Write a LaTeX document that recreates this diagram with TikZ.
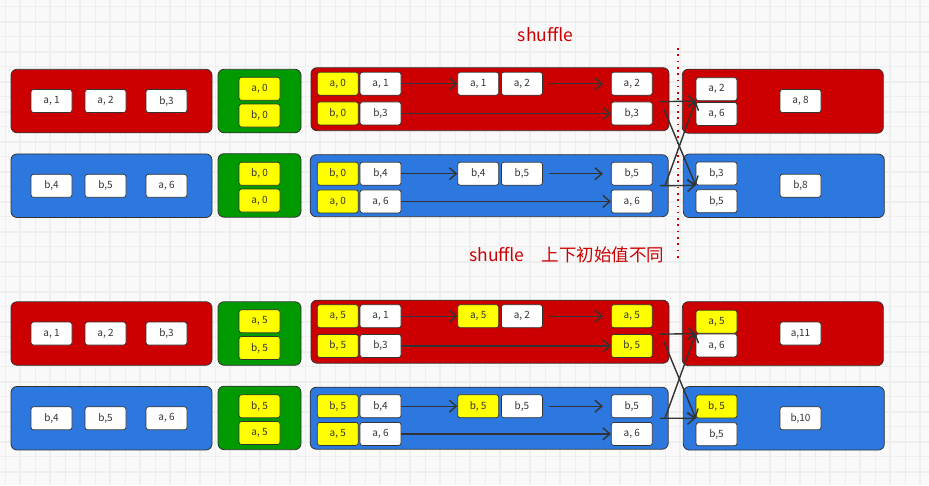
\documentclass[tikz,border=0pt]{standalone}
\usepackage{fontspec}
\setmainfont{Noto Sans CJK SC}
\usetikzlibrary{positioning,arrows.meta}

\definecolor{redc}{HTML}{CC0000}
\definecolor{bluec}{HTML}{2C78DE}
\definecolor{greenc}{HTML}{009900}
\definecolor{yelc}{HTML}{FFFF00}
\definecolor{linec}{HTML}{333333}
\definecolor{bgc}{HTML}{F9F9F9}
\definecolor{gridc}{HTML}{EEEEEE}

\newcommand{\cellfont}{\fontsize{10}{12}\selectfont}

\begin{document}
\begin{tikzpicture}[x=1pt, y=-1pt, node distance=1pt,
    blk/.style={draw=linec, line width=0.8pt, rounded corners=6pt, inner sep=0pt},
    sideblk/.style={blk, minimum width=201pt, minimum height=63.5pt},
    greenblk/.style={blk, fill=greenc, minimum width=83pt, minimum height=63.5pt},
    midblk/.style={blk, minimum width=358pt, minimum height=63pt},
    cell/.style={draw=linec, line width=0.7pt, fill=white, rounded corners=2.5pt,
      minimum width=41pt, minimum height=23pt, inner sep=0pt, text=linec, font=\cellfont},
    ycell/.style={cell, fill=yelc},
    arr/.style={draw=linec, line width=1.4pt, -{Straight Barb[length=7pt,width=12pt]}},
    title/.style={text=redc, font=\fontsize{17.5}{20}\selectfont, inner sep=0pt}]

  \useasboundingbox[fill=bgc] (0,0) rectangle (929,485);
  % background grid
  \foreach \x in {5,35,...,929} \draw[gridc, line width=0.8pt] (\x,0) -- (\x,485);
  \foreach \y in {6.7,36.7,...,485} \draw[gridc, line width=0.8pt] (0,\y) -- (929,\y);
  \foreach \x in {20,50,...,929} \draw[gridc, line width=1.6pt] (\x,0) -- (\x,485);
  \foreach \y in {21.7,51.7,...,485} \draw[gridc, line width=1.6pt] (0,\y) -- (929,\y);

  % upper half
  \node[sideblk, fill=redc] (lru) at (111.5,101) {};
  \node[cell] (lru1) at (51.5,101) {a, 1};
  \node[cell] (lru2) at (105.5,101) {a, 2};
  \node[cell] (lru3) at (166.5,101) {b,3};
  \node[sideblk, fill=bluec] (lbu) at (111.5,185.7) {};
  \node[cell] (lbu1) at (51.5,185.8) {b,4};
  \node[cell] (lbu2) at (105.5,185.8) {b,5};
  \node[cell] (lbu3) at (166.5,185.8) {a, 6};

  \node[greenblk] (gru) at (259.5,101) {};
  \node[ycell] (gru1) at (259.5,88.8) {a, 0};
  \node[ycell, below=3pt of gru1] (gru2) {b, 0};
  \node[greenblk] (gbu) at (259.5,185.4) {};
  \node[ycell] (gbu1) at (259.5,173.8) {b, 0};
  \node[ycell, below=3pt of gbu1] (gbu2) {a, 0};

  \node[midblk, fill=redc] (mru) at (490,99.2) {};
  \node[ycell] (mru1) at (337.8,83.7) {a, 0};
  \node[cell, right=of mru1] (mru2) {a, 1};
  \node[cell] (mru3) at (478.2,83.7) {a, 1};
  \node[cell, right=2pt of mru3] (mru4) {a, 2};
  \node[cell] (mru5) at (631.8,83.7) {a, 2};
  \node[ycell, below=6pt of mru1] (mru6) {b, 0};
  \node[cell, right=of mru6] (mru7) {b,3};
  \node[cell, below=6pt of mru5] (mru8) {b,3};
  \node[midblk, fill=bluec, minimum height=62pt] (mbu) at (489.2,185.7) {};
  \node[ycell] (mbu1) at (337.8,173.7) {b, 0};
  \node[cell, right=of mbu1] (mbu2) {b,4};
  \node[cell] (mbu3) at (478.2,173.7) {b,4};
  \node[cell, right=2pt of mbu3] (mbu4) {b,5};
  \node[cell] (mbu5) at (631.8,173.7) {b,5};
  \node[ycell, below=4pt of mbu1] (mbu6) {a, 0};
  \node[cell, right=of mbu6] (mbu7) {a, 6};
  \node[cell, below=4pt of mbu5] (mbu8) {a, 6};

  \draw[arr] (mru2) -- (mru3);
  \draw[arr, shorten <=6pt, shorten >=8pt] (mru4) -- (mru5);
  \draw[arr] (mru7) -- (mru8);
  \draw[arr] (mbu2) -- (mbu3);
  \draw[arr, shorten <=6pt, shorten >=8pt] (mbu4) -- (mbu5);
  \draw[arr] (mbu7) -- (mbu8);

  \node[sideblk, fill=redc, minimum height=64pt] (rru) at (782.8,101.2) {};
  \node[cell] (rru1) at (716.5,89.2) {a, 2};
  \node[cell, below=of rru1] (rru2) {a, 6};
  \node[cell] (rru3) at (800.5,101) {a, 8};
  \node[sideblk, fill=bluec] (rbu) at (783.8,185.8) {};
  \node[cell] (rbu1) at (716.5,173.5) {b,3};
  \node[cell, below=4pt of rbu1] (rbu2) {b,5};
  \node[cell] (rbu3) at (800.5,185.7) {b,8};

  % lower half
  \node[sideblk, fill=redc] (lrd) at (111.5,333.5) {};
  \node[cell] (lrd1) at (51.5,333.5) {a, 1};
  \node[cell] (lrd2) at (105.5,333.5) {a, 2};
  \node[cell] (lrd3) at (166.5,333.5) {b,3};
  \node[sideblk, fill=bluec] (lbd) at (111.5,418.2) {};
  \node[cell] (lbd1) at (51.5,418.3) {b,4};
  \node[cell] (lbd2) at (105.5,418.3) {b,5};
  \node[cell] (lbd3) at (166.5,418.3) {a, 6};

  \node[greenblk] (grd) at (259.5,333.5) {};
  \node[ycell] (grd1) at (259.5,321.3) {a, 5};
  \node[ycell, below=3pt of grd1] (grd2) {b, 5};
  \node[greenblk] (gbd) at (259.5,417.9) {};
  \node[ycell] (gbd1) at (259.5,406.3) {b, 5};
  \node[ycell, below=3pt of gbd1] (gbd2) {a, 5};

  \node[midblk, fill=redc] (mrd) at (490,331.7) {};
  \node[ycell] (mrd1) at (337.8,316.2) {a, 5};
  \node[cell, right=of mrd1] (mrd2) {a, 1};
  \node[ycell] (mrd3) at (478.2,316.2) {a, 5};
  \node[cell, right=2pt of mrd3] (mrd4) {a, 2};
  \node[ycell] (mrd5) at (631.8,316.2) {a, 5};
  \node[ycell, below=6pt of mrd1] (mrd6) {b, 5};
  \node[cell, right=of mrd6] (mrd7) {b,3};
  \node[ycell, below=6pt of mrd5] (mrd8) {b, 5};
  \node[midblk, fill=bluec, minimum height=62pt] (mbd) at (489.2,418.2) {};
  \node[ycell] (mbd1) at (337.8,406.2) {b, 5};
  \node[cell, right=of mbd1] (mbd2) {b,4};
  \node[ycell] (mbd3) at (478.2,406.2) {b, 5};
  \node[cell, right=2pt of mbd3] (mbd4) {b,5};
  \node[cell] (mbd5) at (631.8,406.2) {b,5};
  \node[ycell, below=4pt of mbd1] (mbd6) {a, 5};
  \node[cell, right=of mbd6] (mbd7) {a, 6};
  \node[cell, below=4pt of mbd5] (mbd8) {a, 6};

  \draw[arr] (mrd2) -- (mrd3);
  \draw[arr, shorten <=6pt, shorten >=8pt] (mrd4) -- (mrd5);
  \draw[arr] (mrd7) -- (mrd8);
  \draw[arr] (mbd2) -- (mbd3);
  \draw[arr, shorten <=6pt, shorten >=8pt] (mbd4) -- (mbd5);
  \draw[arr] (mbd7) -- (mbd8);

  \node[sideblk, fill=redc, minimum height=64pt] (rrd) at (782.8,333.7) {};
  \node[ycell] (rrd1) at (716.5,321.7) {a, 5};
  \node[cell, below=0pt of rrd1] (rrd2) {a, 6};
  \node[cell] (rrd3) at (800.5,333.5) {a,11};
  \node[sideblk, fill=bluec] (rbd) at (783.8,418.3) {};
  \node[ycell] (rbd1) at (716.5,406.5) {b, 5};
  \node[cell, below=4pt of rbd1] (rbd2) {b,5};
  \node[cell] (rbd3) at (800.5,418.3) {b,10};

  % shuffle
  \draw[redc, line width=1.6pt, dash pattern=on 1.6pt off 4.7pt] (677.7,48) -- (677.7,258);
  \node[title] (ttl) at (545.5,35) {shuffle};
  \node[title, anchor=west] (ttl2) at (469,255) {shuffle\hspace{17pt}上下初始值不同};

  \coordinate (su1) at (660,101.7);
  \coordinate (su2) at (664,109.3);
  \coordinate (su3) at (665,185.7);
  \coordinate (su4) at (660,185.7);
  \draw[arr] (su1) -- (rru1.south west);
  \draw[arr] (su2) -- (rbu1.south west);
  \draw[arr] (su3) -- (rru1.south west);
  \draw[arr] (su4) -- (rbu1.south west);

  \coordinate (sd1) at (660,334.2);
  \coordinate (sd2) at (664,341.8);
  \coordinate (sd3) at (665,418.2);
  \coordinate (sd4) at (660,418.2);
  \draw[arr] (sd1) -- (rrd1.south west);
  \draw[arr] (sd2) -- (rbd1.south west);
  \draw[arr] (sd3) -- (rrd1.south west);
  \draw[arr] (sd4) -- (rbd1.south west);
\end{tikzpicture}
\end{document}
